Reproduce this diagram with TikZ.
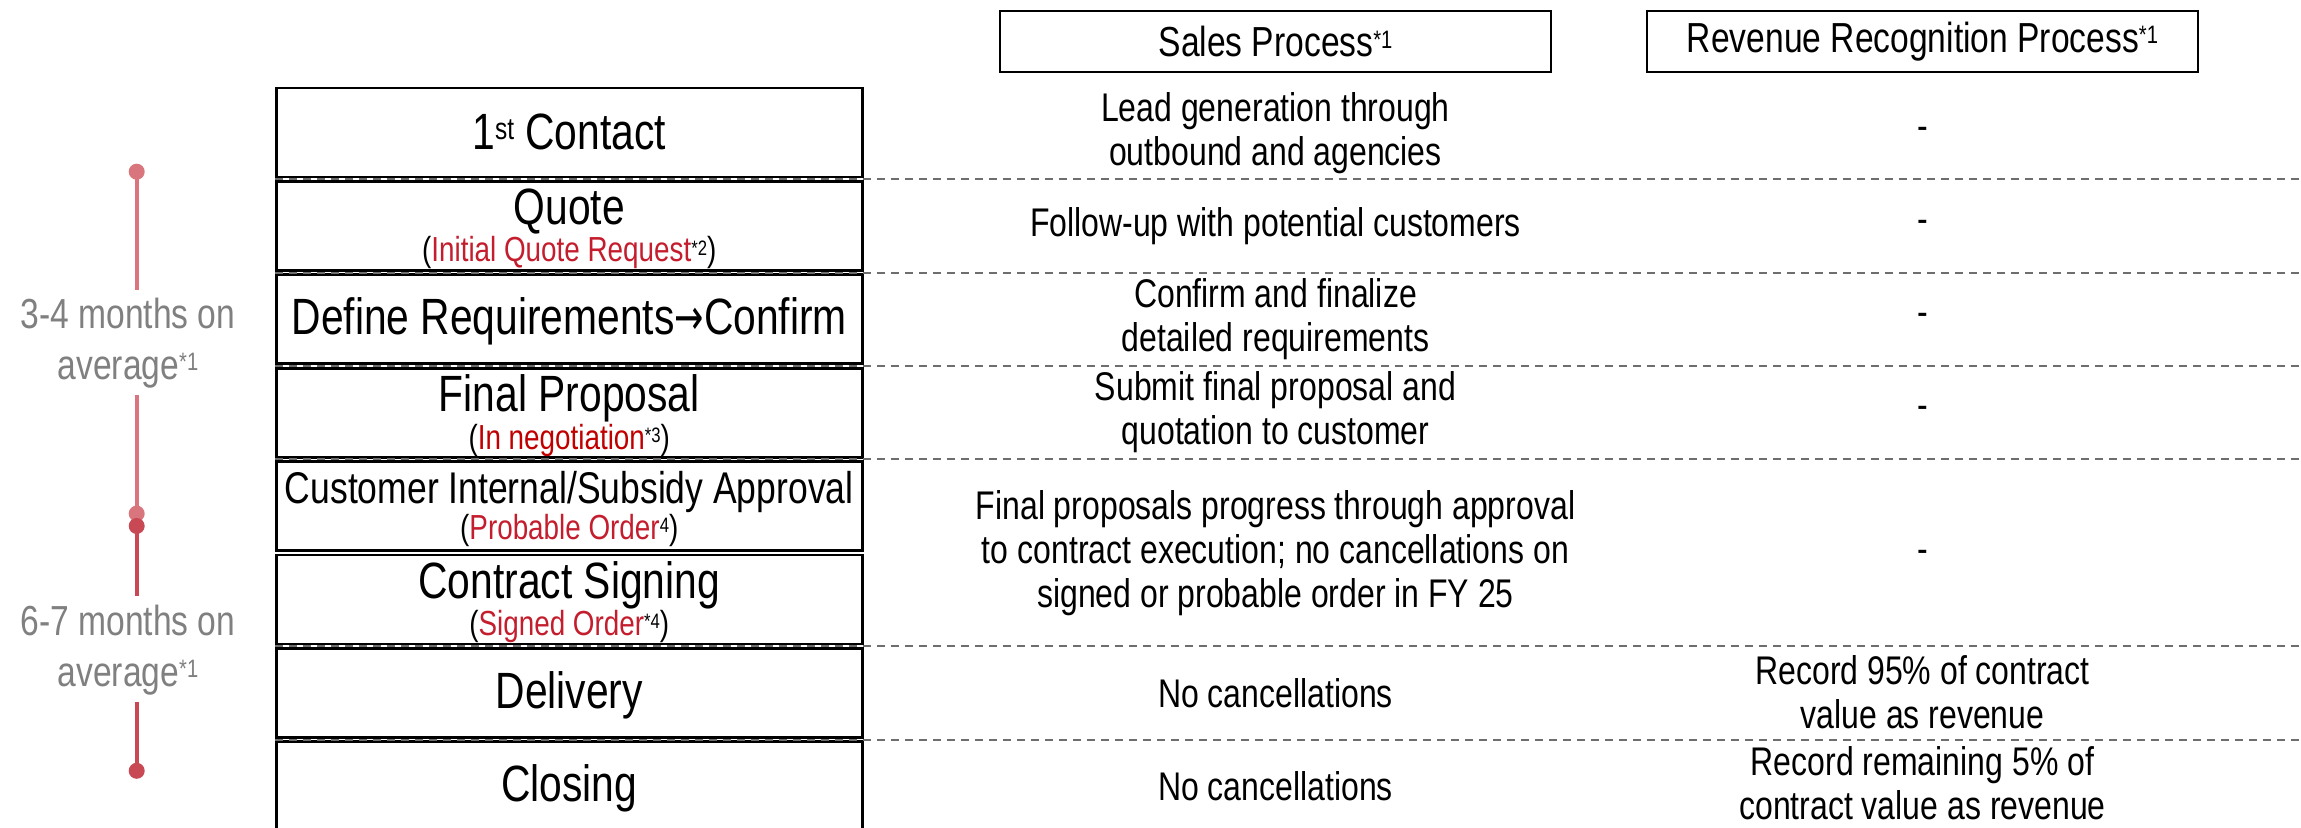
\documentclass[tikz,border=0pt]{standalone}
\usepackage{fontspec}
\setmainfont[FakeStretch=0.8]{Liberation Sans}
\newfontfamily\arrowfont[FakeStretch=0.7]{DejaVu Sans}
\usetikzlibrary{calc}

\definecolor{accent}{HTML}{C41E2E}
\definecolor{negred}{HTML}{C00000}
\definecolor{lineA}{HTML}{D9757D}
\definecolor{lineB}{HTML}{C84854}
\definecolor{labelgray}{HTML}{808080}
\definecolor{rulegray}{HTML}{6E6E6E}

\newcommand{\fsz}[2]{\fontsize{#1}{#2}\selectfont}
\newcommand{\thenarrow}{{\arrowfont\fsz{25}{28}→}}
% small raised marks whose top sits near the cap height
\newcommand{\sups}[1]{\raisebox{0.2em}{\scalebox{0.6}{#1}}}
% stage name over a red status note; the name is smashed so the
% baseline distance is exactly the node's \baselineskip
\newcommand{\stagewithnote}[4]{\smash{#1}\\{\fsz{17.4}{18.5}(\textcolor{#2}{#3}\sups{#4})}}

\begin{document}
\begin{tikzpicture}[x=0.5pt,y=-0.5pt,
  stagebox/.style={draw=black, line width=1.4pt, minimum width=293pt, minimum height=44.5pt, inner sep=0pt},
  headbox/.style={draw=black, line width=1.2pt, minimum width=275.5pt, minimum height=30.5pt, inner sep=0pt, font=\fsz{21}{24}},
  stagetitle/.style={anchor=base, inner sep=0pt, align=center, font=\fsz{25.5}{18.5}},
  celltext/.style={align=center, inner sep=0pt, font=\fsz{20}{22}},
  rowrule/.style={draw=rulegray, line width=1pt, dash pattern=on 4pt off 3pt},
  tdot/.style={circle, fill=#1, minimum size=8pt, inner sep=0pt},
  tspan/.style={line width=2pt, draw=#1},
  months/.style={align=center, text=labelgray, font=\fsz{21}{25.5}, inner sep=0pt}
]
\useasboundingbox (0,0) rectangle (2301,828);

% column headers
\node[headbox] (hsales) at (1275.5,41.5) {Sales Process\sups{*1}};
\node[headbox] (hrev) at (1922.5,41.5) {Revenue Recognition Process\sups{*1}};

% stage boxes
\foreach \i/\t in {1/88,2/181.4,3/274.8,4/368.2,5/461.6,6/555,7/648.4,8/741.8}
  \node[stagebox] (r\i) at (569.25,{\t+44.5}) {};

% dashed row separators
\foreach \a/\b in {1/2,2/3,3/4,4/5,6/7,7/8}
  \draw[rowrule] ($(r\a.south west)!0.5!(r\b.north west)$) -- ++(2025,0);

% stage names (placed at the baseline of their last line)
\node[stagetitle] (t1) at (569.25,150) {1\sups{st} Contact};
\node[stagetitle] (t2) at (569.25,262) {\stagewithnote{Quote}{accent}{Initial Quote Request}{*2}};
\node[stagetitle] (t3) at (569.25,335) {Define Requirements\thenarrow Confirm};
\node[stagetitle] (t4) at (569.25,449) {\stagewithnote{Final Proposal}{negred}{In negotiation}{*3}};
\node[stagetitle, font=\fsz{22.2}{18}] (t5) at (569.25,539) {\stagewithnote{Customer Internal/Subsidy Approval}{accent}{Probable Order}{4}};
\node[stagetitle] (t6) at (569.25,635) {\stagewithnote{Contract Signing}{accent}{Signed Order}{*4}};
\node[stagetitle] (t7) at (569.25,708) {Delivery};
\node[stagetitle] (t8) at (569.25,801) {Closing};

% sales process column
\node[celltext] (c1) at (1275.5,133) {Lead generation through\\outbound and agencies};
\node[celltext] (c2) at (1275.5,226) {Follow-up with potential customers};
\node[celltext] (c3) at (1275.5,319) {Confirm and finalize\\detailed requirements};
\node[celltext] (c4) at (1275.5,412.5) {Submit final proposal and\\quotation to customer};
\node[celltext] (c5) at (1275.5,553) {Final proposals progress through approval\\to contract execution; no cancellations on\\signed or probable order in FY 25};
\node[celltext] (c7) at (1275.5,693) {No cancellations};
\node[celltext] (c8) at (1275.5,786) {No cancellations};

% revenue recognition column
\node[celltext] (v1) at (1922.5,133) {-};
\node[celltext] (v2) at (1922.5,226) {-};
\node[celltext] (v3) at (1922.5,319) {-};
\node[celltext] (v4) at (1922.5,412.5) {-};
\node[celltext] (v5) at (1922.5,556) {-};
\node[celltext] (v7) at (1922.5,692) {Record 95\% of contract\\value as revenue};
\node[celltext] (v8) at (1922.5,783) {Record remaining 5\% of\\contract value as revenue};

% duration timeline
\node[months] (m1) at (128,343) {3-4 months on\\average\sups{*1}};
\node[months] (m2) at (128,650) {6-7 months on\\average\sups{*1}};
\coordinate (g1) at (136.7,290);
\coordinate (g2) at (136.7,395.5);
\coordinate (g3) at (136.7,596);
\coordinate (g4) at (136.7,701.7);
\node[tdot=lineA] (d1) at (136.7,171.7) {};
\node[tdot=lineA] (d2) at (136.7,513.6) {};
\draw[tspan=lineA] (d1.center) -- (g1);
\draw[tspan=lineA] (g2) -- (d2.center);
\node[tdot=lineB] (d3) at (136.7,526) {};
\node[tdot=lineB] (d4) at (136.7,770.8) {};
\draw[tspan=lineB] (d3.center) -- (g3);
\draw[tspan=lineB] (g4) -- (d4.center);
\end{tikzpicture}
\end{document}
